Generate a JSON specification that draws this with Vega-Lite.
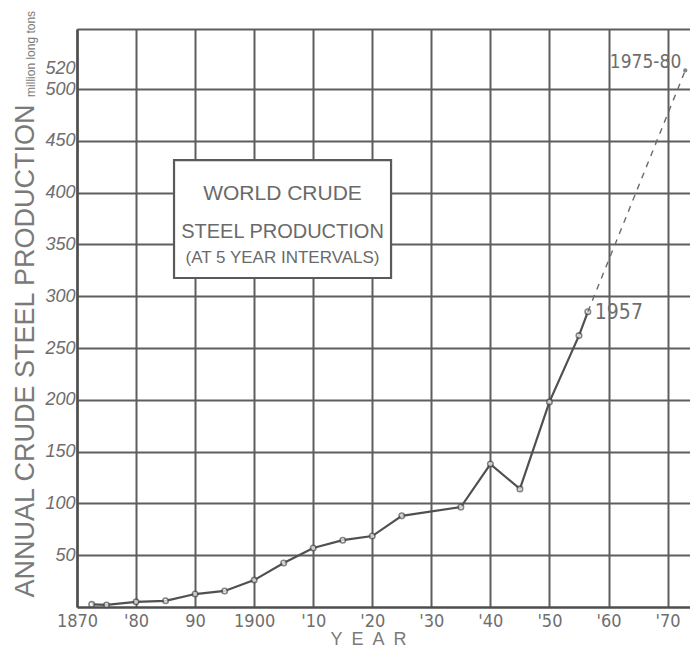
{
  "$schema": "https://vega.github.io/schema/vega-lite/v6.json",
  "width": 613,
  "height": 578,
  "autosize": {"type": "none"},
  "padding": {"left": 77, "top": 29, "right": 0, "bottom": 41},
  "background": "#ffffff",
  "config": {
    "view": {"stroke": null},
    "axis": {
      "gridColor": "#5e5e5e",
      "gridWidth": 2,
      "domainColor": "#4e4e4e",
      "domainWidth": 2.5,
      "ticks": false,
      "labelColor": "#6e6e6e",
      "titleColor": "#7a7a7a",
      "titleFontWeight": "normal"
    }
  },
  "datasets": {
    "production": [
      {"year": 1872.5, "value": 2.5},
      {"year": 1875, "value": 2},
      {"year": 1880, "value": 5},
      {"year": 1885, "value": 6},
      {"year": 1890, "value": 12.5},
      {"year": 1895, "value": 15.5},
      {"year": 1900, "value": 26},
      {"year": 1905, "value": 42.5},
      {"year": 1910, "value": 57},
      {"year": 1915, "value": 64.5},
      {"year": 1920, "value": 68.5},
      {"year": 1925, "value": 88},
      {"year": 1935, "value": 96.5},
      {"year": 1940, "value": 138},
      {"year": 1945, "value": 114},
      {"year": 1950, "value": 198},
      {"year": 1955, "value": 262},
      {"year": 1956.5, "value": 285, "label": "1957"}
    ],
    "projection": [
      {"year": 1956.5, "value": 285},
      {"year": 1973, "value": 518, "label": "1975-80"}
    ],
    "single": [{}]
  },
  "layer": [
    {
      "data": {"name": "production"},
      "mark": {"type": "line", "color": "#505050", "strokeWidth": 2.2},
      "encoding": {
        "x": {
          "field": "year",
          "type": "quantitative",
          "scale": {"domain": [1870, 1973.8], "nice": false, "zero": false},
          "axis": {
            "values": [1870, 1880, 1890, 1900, 1910, 1920, 1930, 1940, 1950, 1960, 1970],
            "labelExpr": "datum.value == 1870 || datum.value == 1900 ? toString(datum.value) : datum.value == 1890 ? '90' : \"'\" + slice(toString(datum.value), 2)",
            "labelFont": "Liberation Sans Narrow, DejaVu Sans Condensed, Liberation Sans, sans-serif",
            "labelFontSize": 18,
            "labelPadding": 5,
            "labelFlush": false,
            "labelOverlap": false,
            "title": "Y\u2002E\u2002A\u2002R",
            "titleFont": "Liberation Sans, sans-serif",
            "titleFontSize": 18,
            "titleX": 291,
            "titleY": 37,
            "titleAlign": "center",
            "titleBaseline": "alphabetic"
          }
        },
        "y": {
          "field": "value",
          "type": "quantitative",
          "scale": {"domain": [0, 558], "nice": false},
          "axis": {
            "values": [50, 100, 150, 200, 250, 300, 350, 400, 450, 500, 520, 558],
            "labelExpr": "datum.value == 558 ? '' : datum.label",
            "gridOpacity": {"condition": {"test": "datum.value == 520", "value": 0}, "value": 1},
            "labelFont": "Liberation Sans, sans-serif",
            "labelFontStyle": "italic",
            "labelFontSize": 18,
            "labelPadding": 2,
            "labelOverlap": false,
            "labelFlush": false,
            "title": "ANNUAL CRUDE STEEL PRODUCTION",
            "titleFont": "Liberation Sans, sans-serif",
            "titleFontSize": 27,
            "titleAngle": 270,
            "titleAlign": "left",
            "titleBaseline": "alphabetic",
            "titleX": -44,
            "titleY": 568
          }
        }
      }
    },
    {
      "data": {"name": "production"},
      "mark": {"type": "point", "shape": "circle", "filled": true, "fill": "#ffffff", "stroke": "#505050", "strokeWidth": 1.6, "size": 30},
      "encoding": {
        "x": {"field": "year", "type": "quantitative"},
        "y": {"field": "value", "type": "quantitative"}
      }
    },
    {
      "data": {"name": "projection"},
      "mark": {"type": "line", "color": "#6a6a6a", "strokeWidth": 1.4, "strokeDash": [6, 6]},
      "encoding": {
        "x": {"field": "year", "type": "quantitative"},
        "y": {"field": "value", "type": "quantitative"}
      }
    },
    {
      "data": {"name": "projection"},
      "transform": [{"filter": "datum.label == '1975-80'"}],
      "mark": {"type": "point", "shape": "circle", "filled": true, "color": "#505050", "size": 18},
      "encoding": {
        "x": {"field": "year", "type": "quantitative"},
        "y": {"field": "value", "type": "quantitative"}
      }
    },
    {
      "data": {"name": "production"},
      "transform": [{"filter": "datum.label == '1957'"}],
      "mark": {"type": "text", "align": "left", "baseline": "middle", "dx": 7, "dy": 1, "font": "Liberation Sans Narrow, DejaVu Sans Condensed, Liberation Sans, sans-serif", "fontSize": 21, "color": "#6e6e6e"},
      "encoding": {
        "x": {"field": "year", "type": "quantitative"},
        "y": {"field": "value", "type": "quantitative"},
        "text": {"field": "label"}
      }
    },
    {
      "data": {"name": "projection"},
      "transform": [{"filter": "datum.label == '1975-80'"}],
      "mark": {"type": "text", "align": "right", "baseline": "middle", "dx": -4, "dy": -8, "font": "Liberation Sans Narrow, DejaVu Sans Condensed, Liberation Sans, sans-serif", "fontSize": 19, "color": "#6e6e6e"},
      "encoding": {
        "x": {"field": "year", "type": "quantitative"},
        "y": {"field": "value", "type": "quantitative"},
        "text": {"field": "label"}
      }
    },
    {
      "data": {"name": "single"},
      "mark": {"type": "rect", "fill": "#ffffff", "stroke": "#5a5a5a", "strokeWidth": 2.2},
      "encoding": {
        "x": {"datum": 1886.43, "type": "quantitative"},
        "x2": {"datum": 1923.18},
        "y": {"datum": 431.5, "type": "quantitative"},
        "y2": {"datum": 317.6}
      }
    },
    {
      "data": {"name": "single"},
      "mark": {"type": "text", "align": "center", "baseline": "alphabetic", "font": "Liberation Sans, sans-serif", "fontSize": 21, "color": "#6a6a6a"},
      "encoding": {
        "x": {"datum": 1904.8, "type": "quantitative"},
        "y": {"datum": 392.9, "type": "quantitative"},
        "text": {"value": "WORLD CRUDE"}
      }
    },
    {
      "data": {"name": "single"},
      "mark": {"type": "text", "align": "center", "baseline": "alphabetic", "font": "Liberation Sans, sans-serif", "fontSize": 20, "color": "#6a6a6a"},
      "encoding": {
        "x": {"datum": 1904.8, "type": "quantitative"},
        "y": {"datum": 356.2, "type": "quantitative"},
        "text": {"value": "STEEL PRODUCTION"}
      }
    },
    {
      "data": {"name": "single"},
      "mark": {"type": "text", "align": "center", "baseline": "alphabetic", "font": "Liberation Sans, sans-serif", "fontSize": 17, "color": "#6a6a6a"},
      "encoding": {
        "x": {"datum": 1904.8, "type": "quantitative"},
        "y": {"datum": 332.1, "type": "quantitative"},
        "text": {"value": "(AT 5 YEAR INTERVALS)"}
      }
    },
    {
      "data": {"name": "single"},
      "mark": {"type": "text", "align": "left", "baseline": "alphabetic", "angle": 270, "font": "Liberation Sans, sans-serif", "fontSize": 12, "color": "#7a7a7a"},
      "encoding": {
        "x": {"datum": 1862.9, "type": "quantitative"},
        "y": {"datum": 492.4, "type": "quantitative"},
        "text": {"value": "million long tons"}
      }
    }
  ]
}
